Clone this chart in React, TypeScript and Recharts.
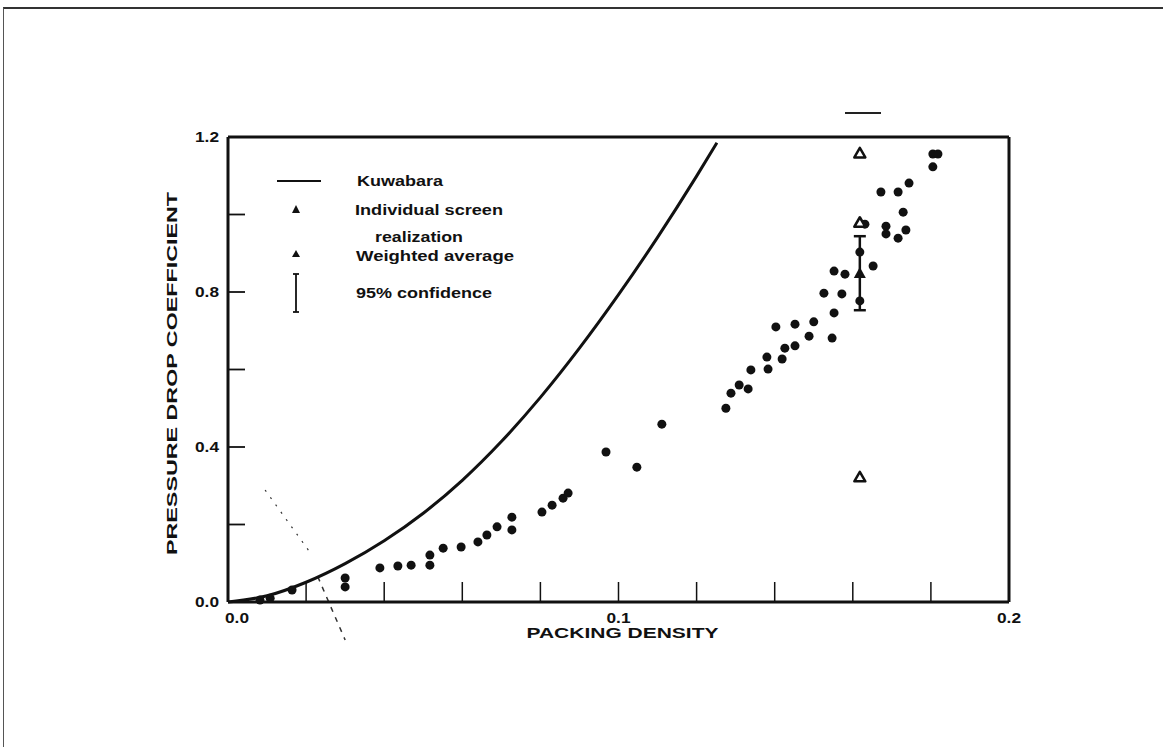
import React from "react";
import {
  ComposedChart,
  XAxis,
  YAxis,
  Line,
  Scatter,
  ErrorBar,
  ReferenceLine,
  Legend,
  Label,
} from "recharts";

// Kuwabara theoretical curve
const kuwabaraX = [0, 0.01, 0.02, 0.03, 0.04, 0.05, 0.06, 0.07, 0.08, 0.09, 0.1, 0.11, 0.12, 0.1252];
const kuwabaraY = [0, 0.016, 0.051, 0.099, 0.158, 0.229, 0.314, 0.414, 0.528, 0.655, 0.793, 0.941, 1.099, 1.185];

// individual screen realizations
const screenX = [
  0.0082, 0.0108, 0.0164, 0.03, 0.03, 0.0389, 0.0435, 0.0469, 0.0517, 0.0517, 0.0551, 0.0597, 0.064, 0.0663,
  0.0689, 0.0727, 0.0727, 0.0804, 0.083, 0.0858, 0.0871, 0.0968, 0.1047, 0.1111, 0.1275, 0.1288, 0.1309,
  0.1332, 0.1339, 0.1383, 0.138, 0.1419, 0.1426, 0.1452, 0.1403, 0.1452, 0.15, 0.1488, 0.1547, 0.1552,
  0.1526, 0.1572, 0.1552, 0.158, 0.1652, 0.1685, 0.1685, 0.1716, 0.1736, 0.1729, 0.1672, 0.1716, 0.1744,
  0.1805, 0.1805, 0.1818, 0.1618, 0.1618, 0.1631,
];
const screenY = [
  0.005, 0.01, 0.031, 0.062, 0.039, 0.088, 0.093, 0.095, 0.095, 0.121, 0.139, 0.142, 0.155, 0.173,
  0.194, 0.219, 0.186, 0.232, 0.25, 0.268, 0.281, 0.387, 0.348, 0.459, 0.5, 0.539, 0.56,
  0.55, 0.599, 0.601, 0.632, 0.627, 0.655, 0.661, 0.71, 0.717, 0.723, 0.686, 0.681, 0.746,
  0.797, 0.795, 0.854, 0.846, 0.867, 0.97, 0.95, 0.939, 0.96, 1.006, 1.058, 1.058, 1.081,
  1.123, 1.156, 1.156, 0.777, 0.903, 0.975,
];

// weighted average with 95% confidence
const avgX = [0.1618];
const avgY = [0.849];
const avgLow = [0.096];
const avgHigh = [0.095];

// open triangles
const openX = [0.1618, 0.1618, 0.1618];
const openY = [1.159, 0.98, 0.323];

const xTicks = [0, 0.02, 0.04, 0.06, 0.08, 0.1, 0.12, 0.14, 0.16, 0.18, 0.2];
const xLabelled = [0, 0.1, 0.2];
const yTicks = [0, 0.2, 0.4, 0.6, 0.8, 1.0, 1.2];
const yLabelled = [0, 0.4, 0.8, 1.2];

const kuwabara = kuwabaraX.map((x, i) => ({ x, y: kuwabaraY[i] }));
const screens = screenX.map((x, i) => ({ x, y: screenY[i] }));
const averages = avgX.map((x, i) => ({ x, y: avgY[i], err: [avgLow[i], avgHigh[i]] }));
const opens = openX.map((x, i) => ({ x, y: openY[i] }));

const INK = "#111";
const FONT = "'Liberation Sans', Arial, sans-serif";

const has = (list: number[], v: number) => list.some((l) => Math.abs(l - v) < 1e-9);

function XTick({ x, y, payload }: any) {
  const v = payload.value as number;
  return (
    <g>
      {v > 0.001 && v < 0.199 && <line x1={x} x2={x} y1={y} y2={y - 20} stroke={INK} strokeWidth={1.5} />}
      {has(xLabelled, v) && (
        <text x={x + (v === 0 ? 9 : 0)} y={y + 21} textAnchor="middle" fontFamily={FONT} fontWeight={700}
          fontSize={15} fill={INK} textLength={24} lengthAdjust="spacingAndGlyphs">
          {v.toFixed(1)}
        </text>
      )}
    </g>
  );
}

function YTick({ x, y, payload }: any) {
  const v = payload.value as number;
  return (
    <g>
      {v > 0.001 && v < 1.199 && <line x1={x} x2={x + 17} y1={y} y2={y} stroke={INK} strokeWidth={1.8} />}
      {has(yLabelled, v) && (
        <text x={x - 9} y={y + 5} textAnchor="end" fontFamily={FONT} fontWeight={700} fontSize={15} fill={INK}
          textLength={24} lengthAdjust="spacingAndGlyphs">
          {v.toFixed(1)}
        </text>
      )}
    </g>
  );
}

const Dot = ({ cx, cy }: any) => <circle cx={cx} cy={cy} r={4.5} fill={INK} />;

const FilledTri = ({ cx, cy }: any) => (
  <path d={`M${cx},${cy - 6} L${cx + 6},${cy + 5} L${cx - 6},${cy + 5} Z`} fill={INK} />
);

const OpenTri = ({ cx, cy }: any) => (
  <path d={`M${cx},${cy - 5} L${cx + 5.5},${cy + 4.5} L${cx - 5.5},${cy + 4.5} Z`} fill="#fff" stroke={INK}
    strokeWidth={2.5} strokeLinejoin="round" />
);

const legendText = { fontFamily: FONT, fontWeight: 700, fontSize: 14, fill: INK } as const;

function LegendBox() {
  return (
    <svg width={260} height={150}>
      <line x1={7} x2={51} y1={16} y2={16} stroke={INK} strokeWidth={1.8} />
      <text x={87} y={21} {...legendText} textLength={86} lengthAdjust="spacingAndGlyphs">Kuwabara</text>
      <path d="M26,40 L30,48 L22,48 Z" fill={INK} />
      <text x={85} y={50} {...legendText} textLength={148} lengthAdjust="spacingAndGlyphs">Individual screen</text>
      <text x={105} y={77} {...legendText} textLength={88} lengthAdjust="spacingAndGlyphs">realization</text>
      <path d="M26,85 L30,92 L22,92 Z" fill={INK} />
      <text x={86} y={96} {...legendText} textLength={158} lengthAdjust="spacingAndGlyphs">Weighted average</text>
      <line x1={26} x2={26} y1={109} y2={147} stroke={INK} strokeWidth={1.8} />
      <line x1={23} x2={29} y1={109} y2={109} stroke={INK} strokeWidth={1.8} />
      <line x1={23} x2={29} y1={147} y2={147} stroke={INK} strokeWidth={1.8} />
      <text x={86} y={133} {...legendText} textLength={136} lengthAdjust="spacingAndGlyphs">95% confidence</text>
    </svg>
  );
}

const YTitle = ({ viewBox }: any) => {
  const cx = viewBox.x - 11;
  const cy = viewBox.y + viewBox.height / 2 + 4;
  return (
    <text x={cx} y={cy} transform={`rotate(-90 ${cx} ${cy})`} textAnchor="middle" fontFamily={FONT}
      fontWeight={700} fontSize={14} fill={INK} textLength={363} lengthAdjust="spacingAndGlyphs">
      PRESSURE DROP COEFFICIENT
    </text>
  );
};

const XTitle = ({ viewBox }: any) => {
  const cx = viewBox.x + viewBox.width / 2 + 4;
  const cy = viewBox.y + 36;
  return (
    <text x={cx} y={cy} textAnchor="middle" fontFamily={FONT} fontWeight={700} fontSize={14} fill={INK}
      textLength={192} lengthAdjust="spacingAndGlyphs">
      PACKING DENSITY
    </text>
  );
};

export default function App() {
  return (
    <div style={{ position: "absolute", left: 0, top: 0, width: 1163, height: 747, background: "#fff", overflow: "hidden" }}>
      <div style={{ position: "absolute", left: 3, top: 7, width: 1160, height: 740, borderTop: "2px solid #333", borderLeft: "1.5px solid #555" }} />
      <div style={{ position: "absolute", left: 845, top: 112, width: 36, height: 2, background: "#222" }} />
      <ComposedChart width={1163} height={747} margin={{ top: 137, right: 154, bottom: 115, left: 188 }}>
        <XAxis dataKey="x" type="number" domain={[0, 0.2]} ticks={xTicks} interval={0} height={30}
          axisLine={{ stroke: INK, strokeWidth: 3 }} tickLine={false} tickSize={0} tickMargin={0} tick={<XTick />}>
          <Label content={<XTitle />} />
        </XAxis>
        <YAxis dataKey="y" type="number" domain={[0, 1.2]} ticks={yTicks} interval={0} width={40}
          axisLine={{ stroke: INK, strokeWidth: 3 }} tickLine={false} tickSize={0} tickMargin={0} tick={<YTick />}>
          <Label content={<YTitle />} />
        </YAxis>
        <ReferenceLine y={1.2} stroke={INK} strokeWidth={3} />
        <ReferenceLine x={0.2} stroke={INK} strokeWidth={3} />
        <ReferenceLine segment={[{ x: 0.0095, y: 0.289 }, { x: 0.0215, y: 0.121 }]} stroke="#333" strokeWidth={1.2}
          strokeDasharray="2 7" ifOverflow="visible" />
        <ReferenceLine segment={[{ x: 0.023, y: 0.065 }, { x: 0.03, y: -0.098 }]} stroke="#333" strokeWidth={1.5}
          strokeDasharray="5 6" ifOverflow="visible" />
        <Line data={kuwabara} dataKey="y" type="monotone" stroke={INK} strokeWidth={3} dot={false}
          isAnimationActive={false} />
        <Scatter data={screens} dataKey="y" shape={<Dot />} isAnimationActive={false} />
        <Scatter data={opens} dataKey="y" shape={<OpenTri />} isAnimationActive={false} />
        <Scatter data={averages} dataKey="y" shape={<FilledTri />} isAnimationActive={false}>
          <ErrorBar dataKey="err" direction="y" width={6} stroke={INK} strokeWidth={2.5} />
        </Scatter>
        <Legend layout="vertical" align="center" verticalAlign="middle" content={<LegendBox />}
          wrapperStyle={{ left: 270, top: 165, width: 260, height: 150 }} />
      </ComposedChart>
    </div>
  );
}
